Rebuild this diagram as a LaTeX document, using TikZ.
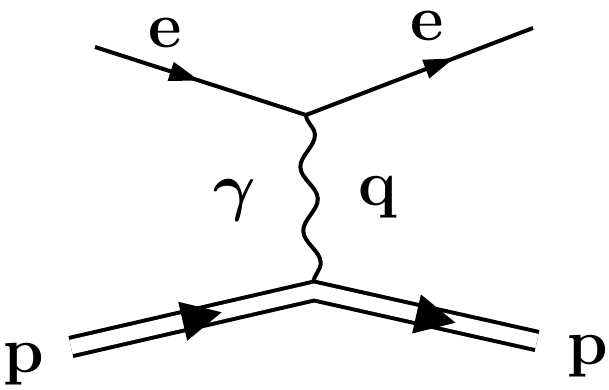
\RequirePackage{fix-cm}
\documentclass[tikz,border=0pt]{standalone}
\usepackage{amsmath}
\usetikzlibrary{
  decorations.pathmorphing,
  decorations.markings
}

\begin{document}
\begin{tikzpicture}[
    x=0.2mm, y=-0.2mm,
    lbl/.style={font=\fontsize{37}{40}\selectfont\bfseries, inner sep=0pt},
    fermion/.style={line width=0.8mm, postaction={decorate},
      decoration={markings, mark=at position #1 with
        {\fill (1.5mm,0) -- (-4.5mm,2mm) -- (-4.5mm,-2mm) -- cycle;}}},
    proton/.style={line width=0.8mm, double, double distance=2.9mm,
      line join=miter},
    parrow/.style={postaction={decorate},
      decoration={markings, mark=at position #1 with
        {\fill (2.5mm,0) -- (-5.5mm,4mm) -- (-5.5mm,-4mm) -- cycle;}}},
    photon/.style={line width=0.8mm, decorate,
      decoration={snake, amplitude=1.6mm, segment length=12.8mm,
        pre length=0pt, post length=0pt}}
  ]
    \useasboundingbox (0,0) rectangle (609,389);
    \coordinate (ein)  at (95,47);
    \coordinate (v1)   at (306,115);
    \coordinate (eout) at (533,28);
    \coordinate (pin)  at (71,347);
    \coordinate (v2)   at (314,291);
    \coordinate (pout) at (537,341);
    % electron
    \draw[fermion=0.46] (ein) -- (v1);
    \draw[fermion=0.62] (v1) -- (eout);
    % photon
    \draw[photon] (v1) -- (v2);
    % proton
    \draw[proton] (pin) -- (v2) -- (pout);
    \path[parrow=0.57] (pin) -- (v2);
    \path[parrow=0.58] (v2) -- (pout);
    % labels
    \node[lbl] (le1) at (165,33) {e};
    \node[lbl] (le2) at (427,26) {e};
    \node[lbl] (lg)  at (235,200) {$\boldsymbol{\gamma}$};
    \node[lbl] (lq)  at (378,197) {q};
    \node[lbl] (lp1) at (24,364) {p};
    \node[lbl] (lp2) at (588,356) {p};
\end{tikzpicture}
\end{document}
